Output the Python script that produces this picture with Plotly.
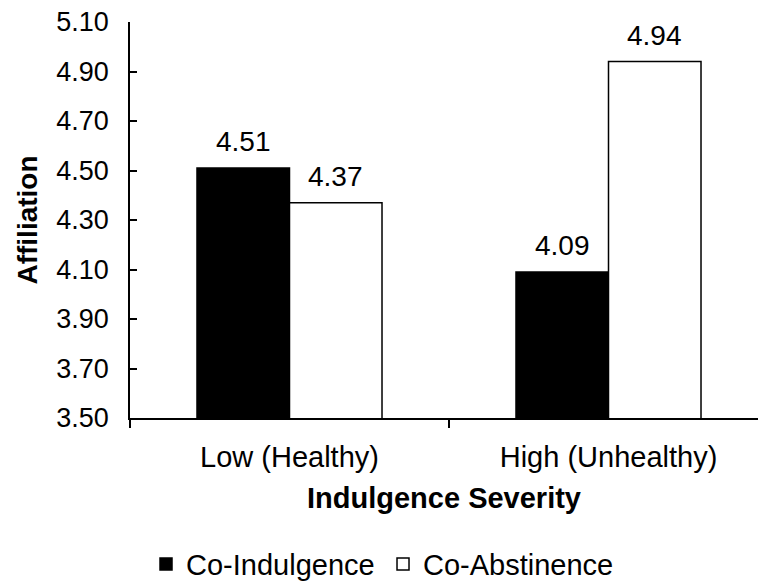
import plotly.graph_objects as go

# Data
categories = ["Low (Healthy)", "High (Unhealthy)"]
series_names = ["Co-Indulgence", "Co-Abstinence"]
co_indulgence = [4.51, 4.09]
co_abstinence = [4.37, 4.94]
y_ticks = [3.50, 3.70, 3.90, 4.10, 4.30, 4.50, 4.70, 4.90, 5.10]

FONT = "Liberation Sans, Arial, sans-serif"
BAR_GAP = 0.42
LINE = dict(color="black", width=1.5)

fig = go.Figure()
fig.add_bar(x=categories, y=co_indulgence, name=series_names[0],
            marker=dict(color="black", line=LINE))
fig.add_bar(x=categories, y=co_abstinence, name=series_names[1],
            marker=dict(color="white", line=LINE))

# Value labels above each bar
bar_w = (1 - BAR_GAP) / 2
for k, values in enumerate([co_indulgence, co_abstinence]):
    offset = (k - 0.5) * bar_w
    for i, v in enumerate(values):
        fig.add_annotation(x=i + offset, y=v, text=f"{v:.2f}", showarrow=False,
                           yanchor="bottom", yshift=9,
                           font=dict(family=FONT, size=28, color="black"))

fig.update_layout(
    width=758, height=583,
    margin=dict(l=130, r=0, t=22, b=165, autoexpand=False),
    paper_bgcolor="white", plot_bgcolor="white",
    barmode="group", bargap=BAR_GAP, bargroupgap=0,
    font=dict(family=FONT, size=29, color="black"),
    showlegend=True,
    legend=dict(orientation="h", x=0.0255, xanchor="left", y=-0.369, yanchor="middle",
                font=dict(size=29), itemwidth=30, traceorder="normal",
                entrywidth=192, entrywidthmode="pixels"),
)

fig.update_xaxes(
    type="category", range=[-0.5, 1.5 - 10 / 319], automargin=False,
    showline=True, linecolor="black", linewidth=1.5,
    ticks="outside", tickson="boundaries", ticklen=8, tickcolor="black", tickwidth=1.5,
    ticklabelstandoff=12, tickfont=dict(size=29), showgrid=False,
    title=dict(text="<b>Indulgence Severity</b>", font=dict(size=29), standoff=16),
)
fig.update_yaxes(
    range=[3.5, 5.1], tickvals=y_ticks, tickformat=".2f", automargin=False,
    showline=True, linecolor="black", linewidth=1.5,
    ticks="inside", ticklen=7, tickcolor="black", tickwidth=1.5,
    ticklabelstandoff=14, tickfont=dict(size=27),
    showgrid=False, zeroline=False,
    title=dict(text="<b>Affiliation</b>", font=dict(size=28), standoff=10),
)

fig.write_html("out.html")
